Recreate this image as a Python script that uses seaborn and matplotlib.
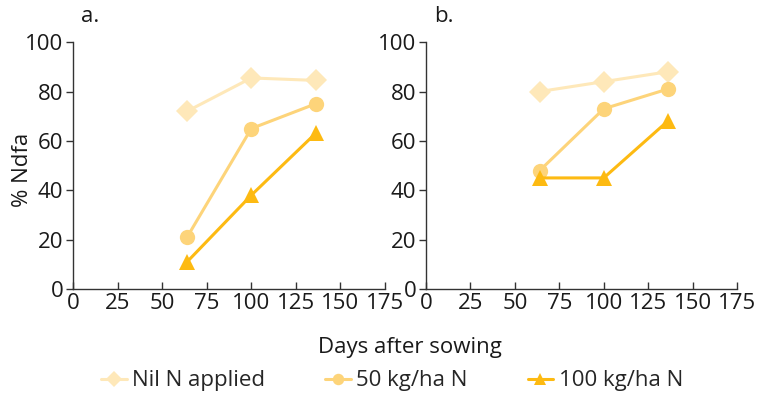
import matplotlib.pyplot as plt
import seaborn as sns
import pandas as pd

# Values
days = [64, 100, 136]
treatments = ['Nil N applied', '50 kg/ha N', '100 kg/ha N']
a_nil = [72, 85.5, 84.5]
a_50 = [21, 65, 75]
a_100 = [11, 38, 63]
b_nil = [80, 84, 88]
b_50 = [48, 73, 81]
b_100 = [45, 45, 68]

colors = ['#FEE8B9', '#FDD47A', '#FDBA12']
markers = ['D', 'o', '^']


def make_df(vals):
    rows = []
    for t, v in zip(treatments, vals):
        for d, y in zip(days, v):
            rows.append((d, y, t))
    return pd.DataFrame(rows, columns=['days', 'ndfa', 'treatment'])


df_a = make_df([a_nil, a_50, a_100])
df_b = make_df([b_nil, b_50, b_100])

sns.set_style('white')
plt.rcParams['font.family'] = ['Open Sans', 'DejaVu Sans']
fs = 16

fig = plt.figure(figsize=(7.64, 3.94), dpi=100)
ax1 = fig.add_axes([0.0955, 0.2665, 0.4085, 0.6265])
ax2 = fig.add_axes([0.5576, 0.2665, 0.4071, 0.6265])

palette = dict(zip(treatments, colors))
mk = dict(zip(treatments, markers))

for ax, df, lab in [(ax1, df_a, 'a.'), (ax2, df_b, 'b.')]:
    sns.lineplot(data=df, x='days', y='ndfa', hue='treatment', style='treatment',
                 hue_order=treatments, style_order=treatments,
                 palette=palette, markers=mk, dashes=False, markersize=11,
                 markeredgewidth=0, linewidth=2.2, ax=ax, legend=(ax is ax1))
    ax.set_xlim(0, 175)
    ax.set_ylim(0, 100)
    ax.set_xticks(range(0, 176, 25))
    ax.set_yticks(range(0, 101, 20))
    ax.set_xlabel('')
    ax.set_ylabel('')
    sns.despine(ax=ax)
    for s in ['left', 'bottom']:
        ax.spines[s].set_color('#333333')
        ax.spines[s].set_linewidth(1)
    ax.tick_params(axis='x', direction='in', length=5, width=1, color='#333333',
                   labelsize=fs, pad=3, labelcolor='#1a1a1a')
    ax.tick_params(axis='y', direction='out', length=5, width=1, color='#333333',
                   labelsize=fs, pad=2, labelcolor='#1a1a1a')
    ax.tick_params(left=True, bottom=True)
    ax.text(0.025, 1.08, lab, transform=ax.transAxes, fontsize=fs, color='#1a1a1a')

fig.text(0.029, 0.57, '% Ndfa', rotation=90, ha='center', va='center',
         fontsize=fs, color='#1a1a1a')

handles, labels = ax1.get_legend_handles_labels()
ax1.get_legend().remove()
fig.legend(handles, labels, loc='center', bbox_to_anchor=(0.513, 0.033), ncol=3,
           frameon=False, fontsize=fs, handlelength=1.15, handletextpad=0.25,
           columnspacing=2.7, markerscale=0.75)

fig.text(0.537, 0.119, 'Days after sowing', ha='center', va='center', fontsize=fs,
         color='#1a1a1a')

fig.savefig('out.png', dpi=100)
